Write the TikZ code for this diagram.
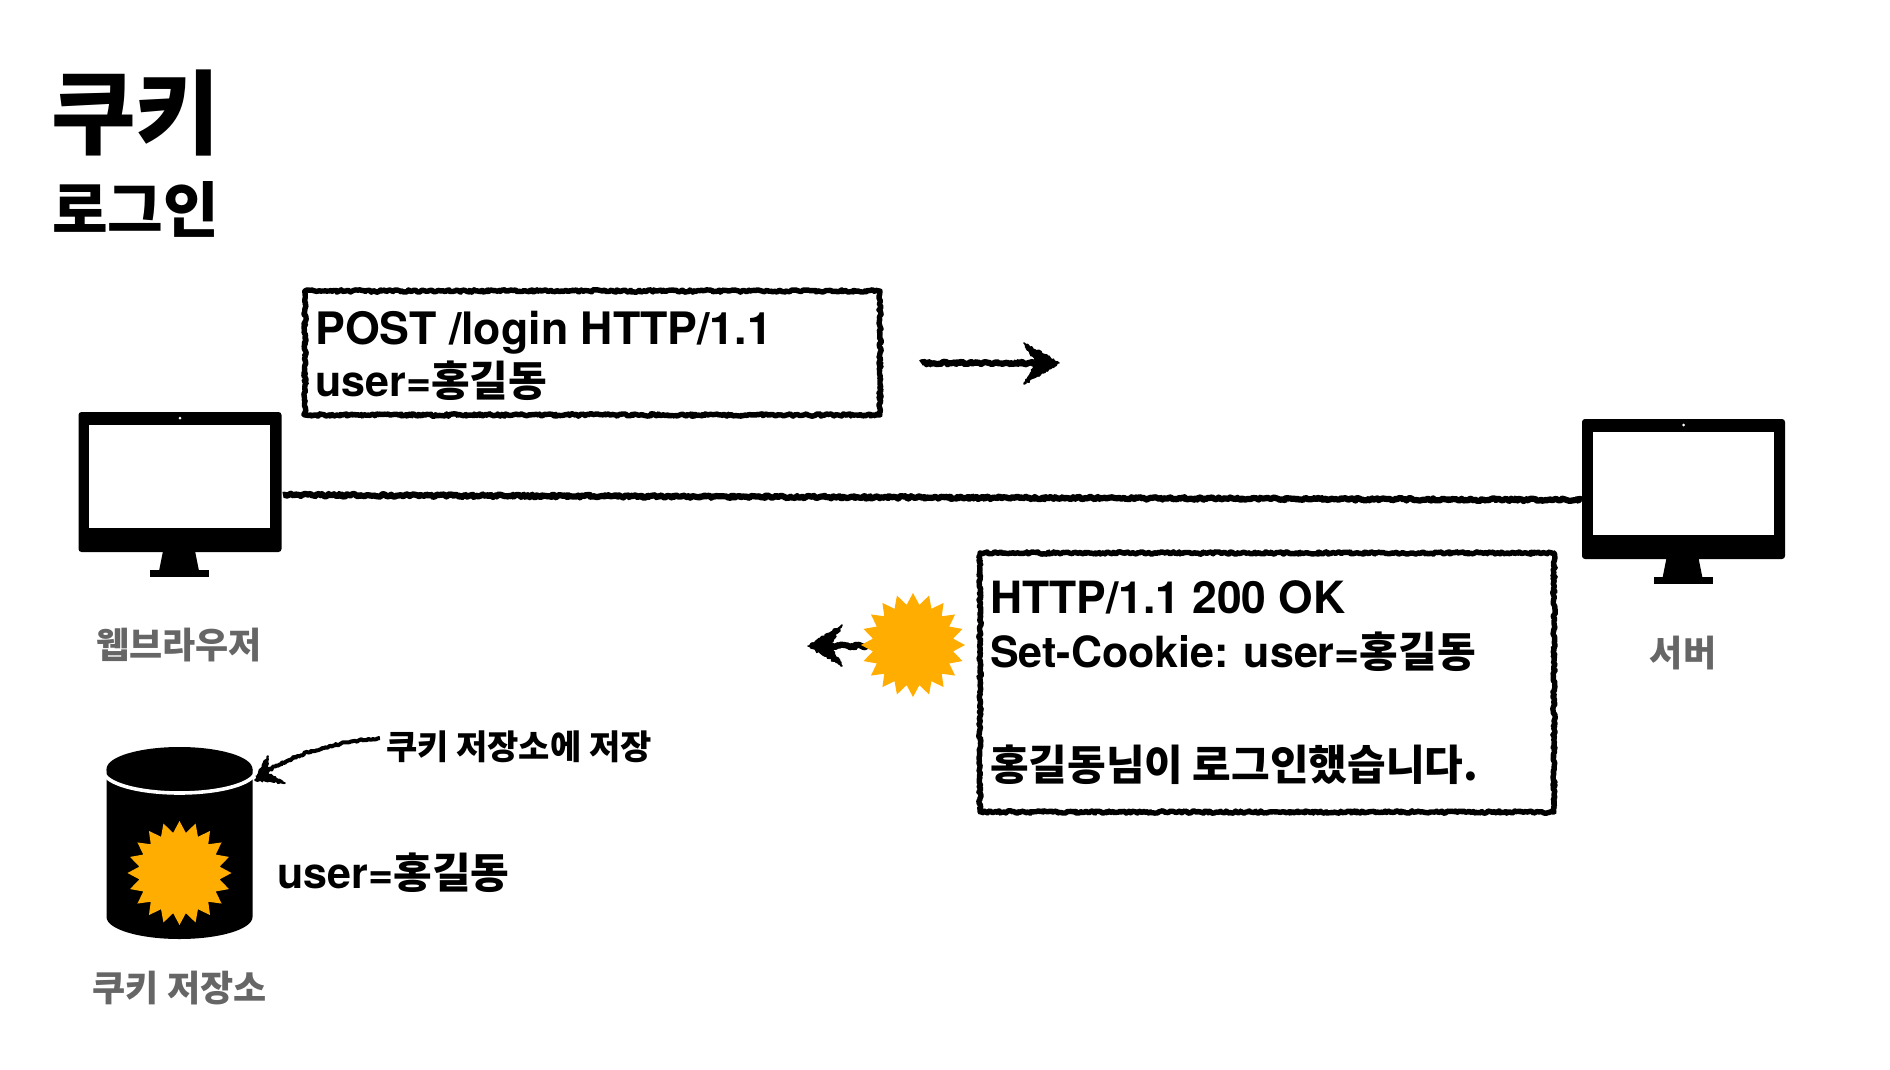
\documentclass[tikz,border=0pt]{standalone}
\usepackage{fontspec}
\setmainfont{TeX Gyre Heros}
\newfontfamily\kr{Noto Sans CJK KR}
\newfontfamily\krm{Noto Sans CJK KR Medium}
\newcommand{\hg}[1]{{\fontsize{42}{42}\selectfont\krm #1}}
\usetikzlibrary{shapes.geometric,decorations.pathmorphing}
\definecolor{cookie}{HTML}{FFAD00}
\definecolor{greytxt}{HTML}{666666}
\tikzset{
  rough/.style={decorate,decoration={random steps,segment length=1.7pt,amplitude=1.3pt},line width=6.2pt,line join=round,line cap=butt,draw=black},
  roughbox/.style={decorate,decoration={random steps,segment length=1.7pt,amplitude=1.2pt},line width=5.4pt,draw=black,line join=round},
  msg/.style={anchor=base west,inner sep=0pt,font=\fontsize{43}{43}\selectfont\bfseries},
  greylabel/.style={anchor=center,inner sep=0pt,text=greytxt,font=\fontsize{36}{36}\selectfont\bfseries\kr},
  cookiestar/.style={star,star points=20,star point ratio=1.28,fill=cookie,minimum size=104pt,inner sep=0pt},
  monitorbody/.style={fill=black,rounded corners=3pt,minimum width=203pt,minimum height=140pt,inner sep=0pt},
  monitorscreen/.style={fill=white,minimum width=181pt,minimum height=103pt,inner sep=0pt},
  roughhead/.style={decorate,decoration={random steps,segment length=1.7pt,amplitude=1.1pt},line width=1.5pt,line join=round},
}
\begin{document}
\begin{tikzpicture}[x=1pt,y=-1pt]
\pgfmathsetseed{7}
\useasboundingbox (0,0) rectangle (1890,1070);
% titles
\node[anchor=base west,inner sep=0pt,font=\fontsize{92}{92}\selectfont\bfseries\kr] (title) at (51,147) {쿠키};
\node[anchor=base west,inner sep=0pt,font=\fontsize{60.5}{60.5}\selectfont\bfseries\kr] (sub) at (52,232) {로그인};
% monitors
\foreach \nm/\dx/\dy in {browser/0/0,server/1503.5/7}{
  \begin{scope}[shift={(\dx,\dy)}]
    \fill (163,551) -- (195,551) -- (199,571) -- (159,571) -- cycle;
    \fill (150,570) rectangle (209,577);
    \node[monitorbody] (\nm) at (180,482) {};
    \node[monitorscreen] (\nm screen) at (179.5,476.5) {};
    \fill[white] (180,418) circle (1.5);
  \end{scope}
}
\coordinate (lineA) at (283,495);
\coordinate (lineB) at (1582,500);
\draw[rough] (lineA) -- (lineB);
% request box
\draw[roughbox] (305,291) rectangle (880,415);
\node[msg,font=\fontsize{44.7}{44.7}\selectfont\bfseries] (req1) at (315,344) {POST /login HTTP/1.1};
\node[msg] (req2) at (315,396) {user=\hg{홍길동}};
% arrow right
\coordinate (a1s) at (921,363);
\coordinate (a1e) at (1055,363);
\draw[rough] (a1s) -- (a1e);
\filldraw[roughhead]
  (1024,343) -- (1059,363) -- (1024,384) -- (1037,363) -- cycle;
% response box
\draw[roughbox] (980,553) rectangle (1554,812);
\node[msg,font=\fontsize{44.4}{44.4}\selectfont\bfseries] (res1) at (990,613.5) {HTTP/1.1 200 OK};
\node[msg] (res2) at (990,667) {Set-Cookie:\hspace{-1pt} user=\hg{홍길동}};
\node[msg] (res3) at (990,780) {\hg{홍길동님이 로그인했습니다.}};
% cookie and arrow left
\coordinate (a2e) at (812,646);
\draw[rough] (868,646) -- (a2e);
\filldraw[roughhead]
  (842,625) -- (808,646) -- (842,666) -- (830,646) -- cycle;
\node[cookiestar] (cookieA) at (913,645) {};
% labels
\node[greylabel] (lb1) at (179,645) {웹브라우저};
\node[greylabel] (lb2) at (1683,653) {서버};
% cylinder
\fill (179.5,769) ellipse[x radius=73,y radius=22];
\fill (106.5,769) -- (252.5,769) -- (252.5,917)
  arc[start angle=0,end angle=180,x radius=73,y radius=22] -- cycle;
\draw[white,line width=3.6pt] (103.5,771) arc[start angle=180,end angle=0,x radius=76,y radius=22];
\node[cookiestar] (cookieB) at (179.5,873) {};
\node[msg] (stored) at (277.5,888) {user=\hg{홍길동}};
\node[greylabel] (lb3) at (179.5,988) {쿠키 저장소};
\node[anchor=center,inner sep=0pt,font=\fontsize{34}{34}\selectfont\bfseries\kr] (note) at (519,747) {쿠키 저장소에 저장};
% curved arrow
\coordinate (dbtip) at (258,777);
\draw[decorate,decoration={random steps,segment length=1.7pt,amplitude=1.1pt},line width=4pt,line join=round]
  (note.west) ++(-6,-9) coordinate (nstart) .. controls (330,743) and (290,755) .. (dbtip);
\filldraw[roughhead]
  (268,756) -- (255,780) -- (285,783) -- (267,773) -- cycle;
\end{tikzpicture}
\end{document}
